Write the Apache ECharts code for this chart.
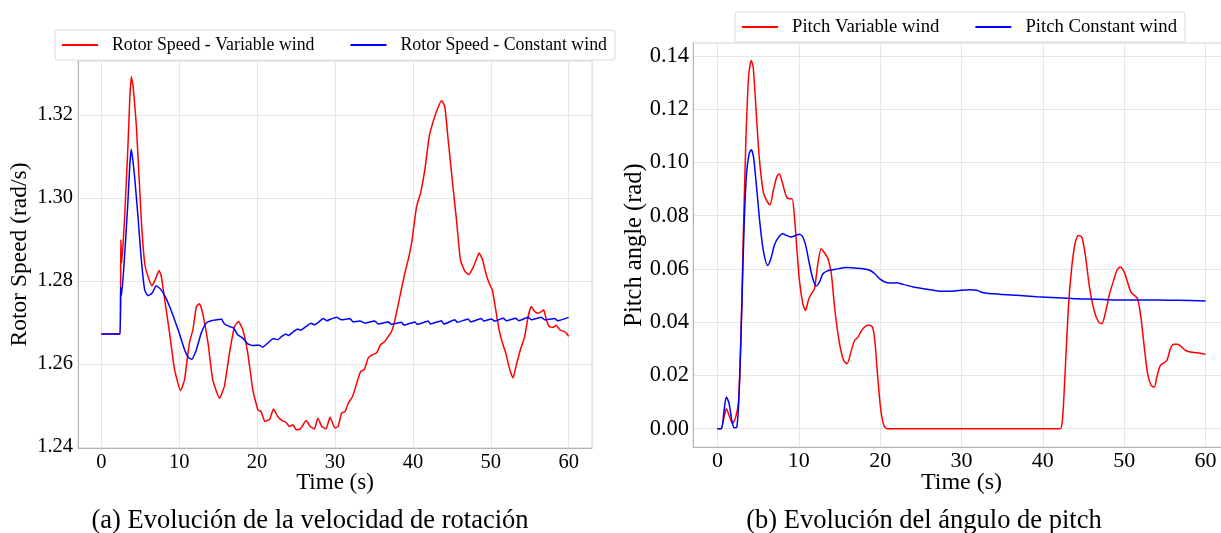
<!DOCTYPE html>
<html><head><meta charset="utf-8">
<script src="https://cdn.jsdelivr.net/npm/echarts@6/dist/echarts.min.js"></script>
<style>html,body{margin:0;padding:0;background:#fff}#c{width:1221px;height:533px}</style>
</head><body><div id="c"></div>
<script>
// ---- Data ----
const rotorVarT = [0,2.4,2.5,2.62,3.0,3.4,3.65,3.85,4.1,4.5,5.13,5.56,5.98,6.5,6.92,7.4,7.7,8.2,8.76,9.4,10.17,10.68,11.3,11.75,12.2,12.6,13.0,13.7,14.3,15.17,15.8,16.45,17.1,17.6,18.16,18.8,19.44,20.1,20.5,21.0,21.6,22.1,22.65,23.2,23.7,24.15,24.6,25.0,25.55,26.3,26.8,27.35,27.8,28.3,28.85,29.36,30.0,30.4,30.85,31.3,31.7,32.26,32.8,33.3,33.76,34.27,34.83,35.34,35.85,36.4,36.84,37.26,37.7,38.33,38.97,39.5,39.9,40.47,40.98,41.54,42.1,42.6,43.1,43.68,44.1,44.53,45.1,45.6,46.1,46.67,47.2,47.7,48.16,48.5,48.93,49.36,49.8,50.2,50.64,51.07,51.5,51.92,52.44,52.86,53.3,53.8,54.36,54.8,55.2,55.64,56.07,56.5,56.8,57.14,57.5,58.0,58.4,58.85,59.36,59.7,60];
const rotorVarV = [1.2672,1.2672,1.2899,1.2843,1.2959,1.3119,1.3240,1.3292,1.3265,1.3172,1.2947,1.2843,1.2811,1.2788,1.2803,1.2825,1.2811,1.2746,1.2674,1.2586,1.2535,1.2562,1.2650,1.2682,1.2738,1.2745,1.2722,1.2650,1.2562,1.2517,1.2546,1.2626,1.2690,1.2702,1.2682,1.2626,1.2538,1.2489,1.2485,1.2461,1.2466,1.2491,1.2473,1.2463,1.2459,1.2449,1.2453,1.2441,1.2443,1.2463,1.2449,1.2443,1.2469,1.2449,1.2443,1.2471,1.2445,1.2449,1.2481,1.2485,1.2505,1.2521,1.2554,1.2582,1.2586,1.2614,1.2622,1.2626,1.2646,1.2654,1.2666,1.2678,1.2706,1.2762,1.2819,1.2859,1.2899,1.2979,1.3011,1.3068,1.3148,1.3184,1.3212,1.3235,1.3220,1.3140,1.3035,1.2947,1.2851,1.2823,1.2815,1.2831,1.2852,1.2867,1.2852,1.2819,1.2794,1.2778,1.2730,1.2682,1.2650,1.2626,1.2586,1.2566,1.2598,1.2634,1.2666,1.2714,1.2738,1.2726,1.2722,1.2726,1.2730,1.2706,1.2690,1.2688,1.2693,1.2682,1.2678,1.2674,1.2666];

const rotorConT = [0,2.4,2.48,2.6,3.0,3.4,3.65,3.85,4.27,4.7,5.13,5.56,5.98,6.5,7.05,7.6,8.2,8.76,9.4,10.0,10.68,11.2,11.6,12.2,12.82,13.46,14.1,14.87,15.4,15.8,16.45,17.0,17.5,18.16,18.8,19.44,20.3,20.7,21.37,22.1,22.65,23.16,23.7,24.0,24.57,25.2,25.55,26.3,26.9,27.35,28.0,28.5,28.97,29.5,30.2,30.85,31.9,32.35,33.2,33.85,35.1,35.55,36.84,37.26,38.55,38.85,40.26,40.56,41.97,42.26,43.68,43.97,45.4,45.7,47.1,47.4,48.8,49.1,50.1,50.5,51.6,52.0,53.2,53.6,54.8,55.2,56.5,56.9,58.2,58.6,60];
const rotorConV = [1.2672,1.2672,1.2786,1.2766,1.2866,1.2987,1.3080,1.3117,1.3051,1.2955,1.2851,1.2778,1.2764,1.2770,1.2788,1.2780,1.2762,1.2738,1.2706,1.2674,1.2634,1.2615,1.2611,1.2634,1.2674,1.2698,1.2704,1.2706,1.2708,1.2696,1.2690,1.2686,1.2670,1.2662,1.2648,1.2644,1.2645,1.2640,1.2650,1.2661,1.2658,1.2666,1.2672,1.2668,1.2676,1.2684,1.2681,1.2690,1.2698,1.2694,1.2702,1.2709,1.2704,1.2708,1.2712,1.2706,1.2709,1.2701,1.2703,1.2698,1.2703,1.2696,1.2701,1.2695,1.2700,1.2693,1.2701,1.2695,1.2703,1.2696,1.2704,1.2696,1.2706,1.2700,1.2708,1.2701,1.2709,1.2703,1.2708,1.2703,1.2710,1.2704,1.2710,1.2704,1.2712,1.2706,1.2712,1.2706,1.2709,1.2704,1.2712];

const pitchVarT = [0,0.41,0.82,1.1,1.44,1.85,2.26,2.6,2.88,3.17,3.5,3.83,4.16,4.4,4.73,5.14,5.64,6.05,6.46,6.87,7.28,7.6,8.02,8.5,8.85,9.18,9.47,9.75,10.08,10.5,10.82,11.23,11.56,11.93,12.35,12.76,13.17,13.58,14.0,14.4,14.94,15.5,15.93,16.46,16.87,17.28,17.8,18.5,19.05,19.34,19.67,20.04,20.45,20.86,30,42.1,42.4,42.73,43.14,43.55,43.96,44.37,44.78,45.2,45.73,46.3,46.84,47.25,47.66,48.2,48.7,49.1,49.5,50.0,50.4,50.82,51.23,51.64,52.05,52.46,52.87,53.3,53.7,54.0,54.44,54.85,55.26,55.67,56.08,56.57,56.98,57.5,58.13,58.95,60];
const pitchVarV = [0,0,0.0044,0.0075,0.0050,0.0019,0.0044,0.0106,0.0332,0.0707,0.1083,0.1321,0.1383,0.1358,0.1208,0.1020,0.0889,0.0858,0.0841,0.0895,0.0945,0.0958,0.0920,0.0870,0.0864,0.0864,0.0795,0.0682,0.0557,0.0470,0.0444,0.0488,0.0507,0.0526,0.0620,0.0676,0.0660,0.0639,0.0582,0.0457,0.0332,0.0257,0.0244,0.0294,0.0332,0.0344,0.0372,0.0388,0.0382,0.0332,0.0207,0.0081,0.0013,0,0,0,0.0031,0.0207,0.0457,0.0607,0.0695,0.0726,0.0720,0.0657,0.0532,0.0444,0.0401,0.0394,0.0432,0.0507,0.0557,0.0595,0.0607,0.0588,0.0551,0.0513,0.0501,0.0488,0.0419,0.0307,0.0207,0.0163,0.0156,0.0194,0.0238,0.0247,0.0257,0.0300,0.0317,0.0317,0.0309,0.0294,0.0288,0.0285,0.0279];

const pitchConT = [0,0.5,0.82,1.1,1.44,1.77,2.06,2.39,2.67,3.0,3.29,3.58,3.9,4.16,4.44,4.81,5.23,5.64,6.17,6.58,7.0,7.4,8.02,8.5,9.05,9.6,10.08,10.5,10.9,11.3,11.73,12.14,12.55,12.96,13.46,14.2,15.0,15.84,17.08,17.9,18.72,19.34,19.96,20.58,21.2,22.0,22.84,24.07,25.3,26.55,27.8,29.2,30.0,31.0,31.85,32.67,34.72,36.78,39.24,41.7,44.17,46.63,49.1,51.56,54.0,56.5,60];
const pitchConV = [0,0,0.0069,0.0119,0.0094,0.0031,0.0003,0.0006,0.0131,0.0457,0.0770,0.0958,0.1033,0.1048,0.1020,0.0908,0.0770,0.0670,0.0613,0.0639,0.0689,0.0714,0.0732,0.0726,0.0720,0.0726,0.0730,0.0720,0.0682,0.0620,0.0563,0.0536,0.0551,0.0582,0.0592,0.0597,0.0602,0.0605,0.0603,0.0601,0.0595,0.0582,0.0563,0.0551,0.0547,0.0548,0.0542,0.0532,0.0526,0.0520,0.0516,0.0517,0.0520,0.0522,0.0520,0.0511,0.0505,0.0501,0.0496,0.0492,0.0488,0.0486,0.0483,0.0483,0.0483,0.0482,0.0480];

const seriesNames = ['Rotor Speed - Variable wind','Rotor Speed - Constant wind','Pitch Variable wind','Pitch Constant wind'];
const axisTitles = {x: 'Time (s)', yLeft: 'Rotor Speed (rad/s)', yRight: 'Pitch angle (rad)'};
const captions = ['(a) Evolución de la velocidad de rotación','(b) Evolución del ángulo de pitch'];

// ---- Chart ----
const FONT = '"Liberation Serif","Times New Roman",serif';
const zip = (t, v) => t.map((x, i) => [x, v[i]]);
const chart = echarts.init(document.getElementById('c'), null, {renderer: 'canvas'});

function xAx(gi, fs, nfs, margin, gap) {
  return {type: 'value', gridIndex: gi, min: -3, max: 63, splitNumber: 5,
    name: axisTitles.x, nameLocation: 'middle', nameGap: gap, nameMoveOverlap: false,
    nameTextStyle: {fontSize: nfs, color: '#000', fontFamily: FONT},
    axisLine: {show: true, onZero: false, lineStyle: {color: '#b4b4b4', width: 1}},
    axisTick: {show: false},
    axisLabel: {fontSize: fs, color: '#000', fontFamily: FONT, margin: margin,
      formatter: v => (Math.abs(v % 10) < 1e-9 ? String(v) : '')},
    splitLine: {show: true, lineStyle: {color: '#e6e6e6', width: 1}}};
}
function yAx(gi, min, max, split, name, gap, fs, nfs, margin) {
  return {type: 'value', gridIndex: gi, min: min, max: max, splitNumber: split,
    name: name, nameLocation: 'middle', nameGap: gap, nameMoveOverlap: false,
    nameTextStyle: {fontSize: nfs, color: '#000', fontFamily: FONT},
    axisLine: {show: true, onZero: false, lineStyle: {color: '#b4b4b4', width: 1}},
    axisTick: {show: false},
    axisLabel: {fontSize: fs, color: '#000', fontFamily: FONT, margin: margin,
      formatter: v => (Math.abs(Math.round(v * 50) - v * 50) < 1e-6 ? v.toFixed(2) : '')},
    splitLine: {show: true, lineStyle: {color: '#e6e6e6', width: 1}}};
}
function line(name, xi, data, color, smooth, z) {
  return {type: 'line', name: name, xAxisIndex: xi, yAxisIndex: xi, data: data,
    showSymbol: false, symbol: 'none', smooth: smooth, z: z,
    lineStyle: {color: color, width: 1.5}, itemStyle: {color: color}};
}
function legend(names, left, top, fs) {
  return {data: names, left: left, top: top, orient: 'horizontal', icon: 'rect',
    itemWidth: 36, itemHeight: 2, itemGap: 36, padding: [5, 8, 5, 7],
    borderColor: '#dadada', borderWidth: 1, borderRadius: 3, backgroundColor: '#fff',
    textStyle: {fontSize: fs, color: '#000', fontFamily: FONT, padding: [0, 0, 0, 9], lineHeight: 20}};
}

chart.setOption({
  animation: false,
  backgroundColor: '#fff',
  textStyle: {fontFamily: FONT},
  grid: [
    {left: 78, top: 61, width: 514, height: 387, show: true, borderColor: '#d8d8d8', borderWidth: 1, backgroundColor: 'transparent', containLabel: false, outerBoundsMode: 'none'},
    {left: 693, top: 43, width: 537, height: 404, show: true, borderColor: '#d8d8d8', borderWidth: 1, backgroundColor: 'transparent', containLabel: false, outerBoundsMode: 'none'}
  ],
  xAxis: [xAx(0, 20.5, 23, 4, 23), xAx(1, 22, 24, 3, 24)],
  yAxis: [
    yAx(0, 1.2397, 1.3330, 5, axisTitles.yLeft, 46, 20.5, 23.5, 5),
    yAx(1, -0.0069, 0.1449, 7, axisTitles.yRight, 46, 22.5, 24.5, 4)
  ],
  legend: [legend(seriesNames.slice(0, 2), 55, 30, 17.8), legend(seriesNames.slice(2, 4), 735, 12, 18.7)],
  series: [
    line(seriesNames[0], 0, zip(rotorVarT, rotorVarV), '#ff0000', 0.15, 3),
    line(seriesNames[1], 0, zip(rotorConT, rotorConV), '#0000ff', 0.15, 4),
    line(seriesNames[2], 1, zip(pitchVarT, pitchVarV), '#ff0000', 0.25, 3),
    line(seriesNames[3], 1, zip(pitchConT, pitchConV), '#0000ff', 0.25, 4)
  ],
  graphic: [
    {type: 'text', x: 310, y: 521, style: {text: captions[0], fontSize: 26.5, fontFamily: FONT, fill: '#000', align: 'center', verticalAlign: 'middle'}},
    {type: 'text', x: 924, y: 521, style: {text: captions[1], fontSize: 26.5, fontFamily: FONT, fill: '#000', align: 'center', verticalAlign: 'middle'}}
  ]
});
</script></body></html>
